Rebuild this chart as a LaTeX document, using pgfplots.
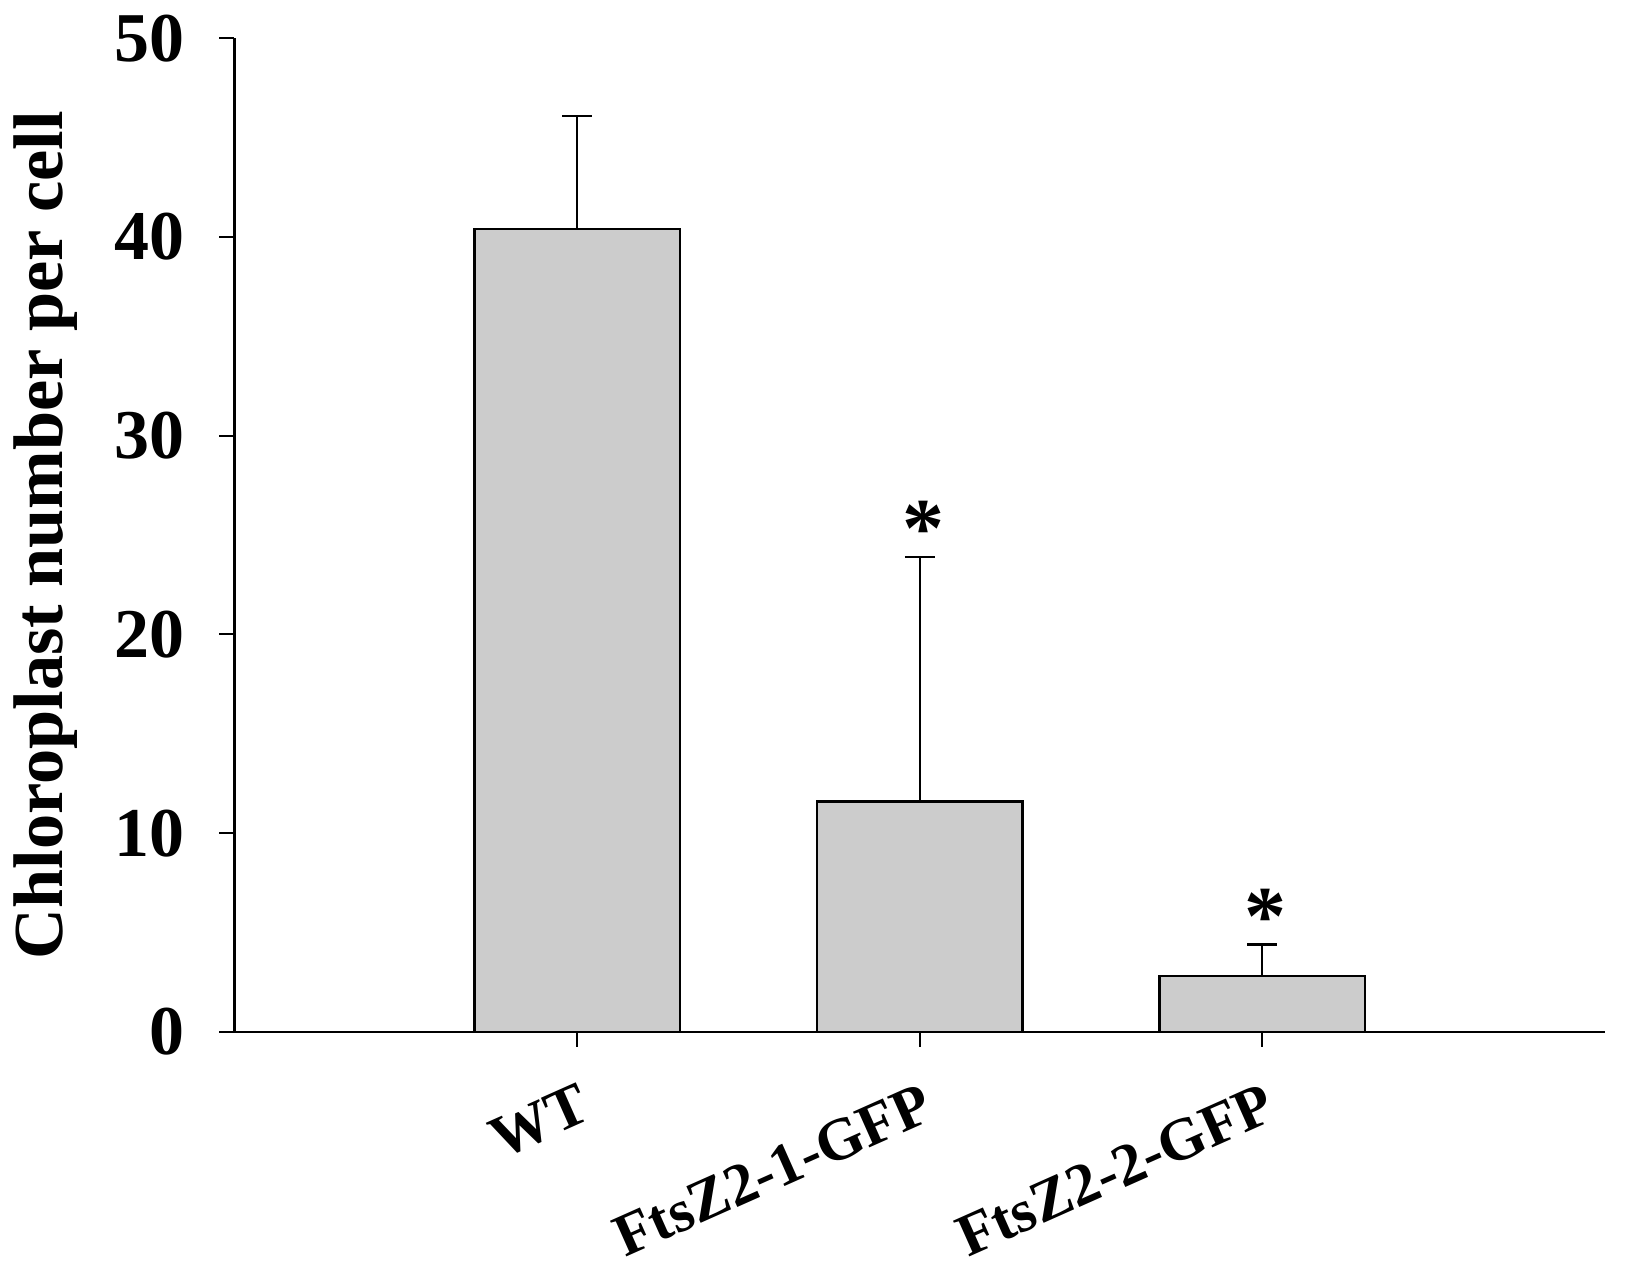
\documentclass[border=0pt]{standalone}
\usepackage{pgfplots}
\pgfplotsset{compat=1.18}
\usepackage{fontspec}
\setmainfont{Liberation Serif}
\begin{document}
\begin{tikzpicture}
\begin{axis}[
  scale only axis,
  width=343pt, height=248.65pt,
  xmin=-1, xmax=3, ymin=0, ymax=50,
  axis x line*=bottom, axis y line*=left,
  axis line style={line width=0.6pt},
  xtick={0,1,2},
  xticklabels={WT,FtsZ2-1-GFP,FtsZ2-2-GFP},
  ytick={0,10,20,30,40,50},
  tick align=outside,
  major tick length=3.75pt,
  tick style={line width=0.5pt, black},
  /pgf/number format/assume math mode=true,
  yticklabel style={font=\bfseries\fontsize{17.5}{20}\selectfont, anchor=east, inner sep=0pt, xshift=-8.5pt},
  xticklabel style={font=\bfseries\fontsize{15}{18}\selectfont, rotate=24, anchor=north east, inner sep=0pt, yshift=-8pt, xshift=-3.5pt},
  ylabel={Chloroplast number per cell},
  ylabel style={font=\bfseries\fontsize{17.6}{20}\selectfont, at={(rel axis cs:-0.1381,0.5)}, anchor=center},
  clip=false,
]
\addplot[ybar, bar width=0.6, fill=black!20, draw=black, line width=0.6pt,
  error bars/.cd, y dir=plus, y explicit,
  error bar style={line width=0.5pt, black},
  error mark options={rotate=90, mark size=3.75pt, line width=0.6pt}]
coordinates {
  (0,40.4) +- (0,5.7)
  (1,11.6) +- (0,12.3)
  (2,2.8) +- (0,1.6)
};
\node[anchor=base, font=\bfseries\fontsize{21}{22}\selectfont, inner sep=0pt] at (axis cs:1.01,23.9) {*};
\node[anchor=base, font=\bfseries\fontsize{21}{22}\selectfont, inner sep=0pt] at (axis cs:2.01,4.4) {*};
\path (rel axis cs:-0.1698,-0.2343) rectangle (rel axis cs:1.0153,1.0386);
\end{axis}
\end{tikzpicture}
\end{document}
